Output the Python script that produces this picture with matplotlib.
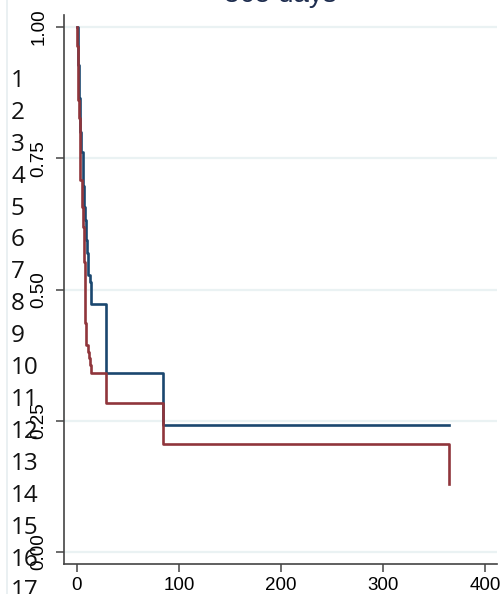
import matplotlib
matplotlib.use('Agg')
from matplotlib import pyplot as plt
from matplotlib.lines import Line2D

# Kaplan-Meier estimates, two groups, follow-up truncated at 365 days
blue_days = [0, 1, 2, 3, 4, 6, 7, 8, 9, 10, 11, 13, 14, 28, 84, 365]
blue_surv = [1.0, 0.928, 0.865, 0.800, 0.762, 0.697, 0.658, 0.632, 0.594,
             0.569, 0.528, 0.515, 0.472, 0.340, 0.242, 0.242]

red_days = [0, 0.5, 1, 2, 3, 4.5, 5.5, 6.5, 7.5, 9, 10.5, 11.5, 12.5, 13.5,
            28, 84, 365]
red_surv = [1.0, 0.963, 0.861, 0.827, 0.709, 0.658, 0.620, 0.553, 0.436,
            0.394, 0.381, 0.369, 0.356, 0.340, 0.284, 0.205, 0.130]

yticks = [0.0, 0.25, 0.5, 0.75, 1.0]
ytick_labels = ['0.00', '0.25', '0.50', '0.75', '1.00']
xticks = [0, 100, 200, 300, 400]
row_numbers = [str(i) for i in range(1, 18)]

W, H = 502, 594
fig = plt.figure(figsize=(W / 100, H / 100), dpi=100)
fig.patch.set_facecolor('white')

ax = fig.add_axes([64 / W, (H - 564) / H, (497 - 64) / W, (564 - 15) / H])
ax.set_xlim(-12.7, 411.8)
ax.set_ylim(-0.0229, 1.0229)

for y in yticks:
    ax.axhline(y, color='#eaf2f3', lw=1.6, zorder=0)

ax.step(blue_days, blue_surv, where='post', color='#1a476f', lw=1.9, zorder=3)
ax.step(red_days, red_surv, where='post', color='#90353b', lw=1.9, zorder=3)

for side in ['top', 'right']:
    ax.spines[side].set_visible(False)
for side in ['left', 'bottom']:
    ax.spines[side].set_color('#444444')
    ax.spines[side].set_linewidth(1.2)

ax.set_yticks(yticks)
ax.set_yticklabels(ytick_labels, rotation=90, va='center',
                   family='Liberation Sans', fontsize=13.5)
ax.set_xticks(xticks)
ax.set_xticklabels([str(x) for x in xticks], family='Liberation Sans',
                   fontsize=13.5)
ax.tick_params(axis='y', length=6, width=1.1, color='#444444', pad=6)
ax.tick_params(axis='x', length=6, width=1.1, color='#444444', pad=3)

fig.text(280 / W, (H - 1.5) / H, '365 days', ha='center', va='baseline',
         family='Liberation Sans', fontsize=20, color='#1e2d4f')

# line numbers running down the left margin
for i, lab in enumerate(row_numbers):
    yc = 81 + 31.9 * i
    fig.text(11 / W, (H - yc) / H, lab, ha='left', va='center',
             family=['Open Sans', 'DejaVu Sans'], fontsize=17.5, color='#111111')

fig.add_artist(Line2D([6.5 / W, 6.5 / W], [0, 1], color='#e6edf0', lw=1.2,
                      transform=fig.transFigure))

fig.savefig('out.png', dpi=100)
